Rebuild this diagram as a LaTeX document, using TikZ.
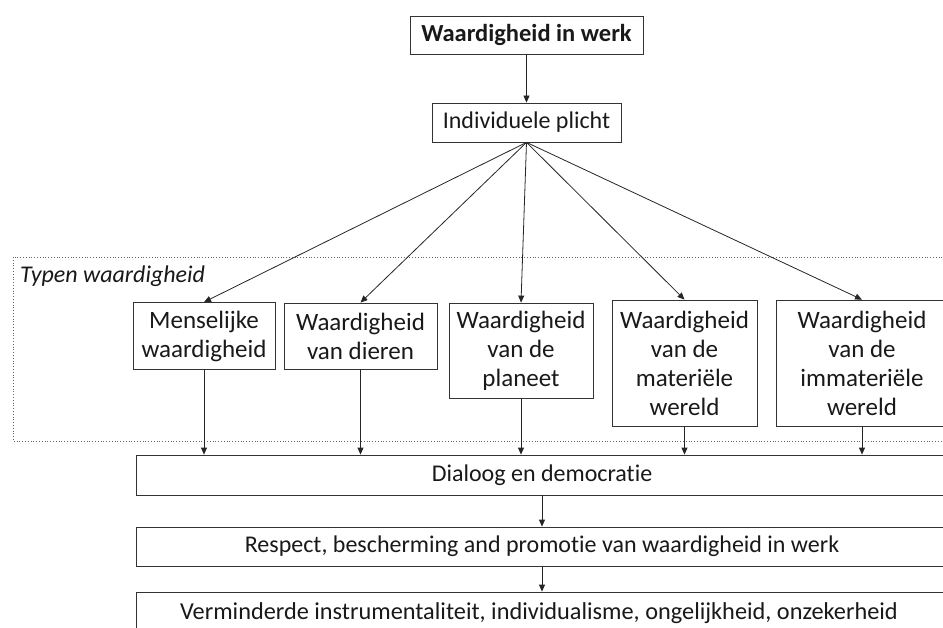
\documentclass[tikz,border=0pt]{standalone}
\usepackage{fontspec}
\setmainfont{Carlito}[Ligatures={NoCommon}]
\usetikzlibrary{arrows.meta}
\begin{document}
\begin{tikzpicture}[x=1pt,y=-1pt,
  box/.style={draw=black!80,line width=0.8pt,inner sep=0pt,align=center,text=black!90,
    font=\fontsize{24}{29}\selectfont},
  arr/.style={draw=black!85,line width=0.8pt,-{Triangle[length=7pt,width=6pt]}},
  ln/.style={draw=black!85,line width=0.8pt}]
\useasboundingbox (0,0) rectangle (943,628);
\clip (0,0) rectangle (943,628);
\fill[white] (0,0) rectangle (943,628);
% dotted group frame
\draw[black!60,dotted,line width=0.8pt] (13,257) rectangle (960,441);
\node[anchor=base west,inner sep=0pt,font=\fontsize{24}{29}\selectfont\itshape,text=black!90] (grp) at (20,283) {Typen waardigheid};
% nodes
\node[box,minimum width=233pt,minimum height=38pt,font=\fontsize{24.5}{29}\selectfont\bfseries] (top) at (526.5,35) {Waardigheid in werk};
\node[box,minimum width=189pt,minimum height=39pt] (ind) at (526.5,122.5) {Individuele plicht};
\node[box,minimum width=142pt,minimum height=67pt,font=\fontsize{25}{29}\selectfont] (m1) at (204,336) {Menselijke\\waardigheid};
\node[box,minimum width=153pt,minimum height=66pt,font=\fontsize{25}{29}\selectfont] (m2) at (360.5,336) {Waardigheid\\van dieren};
\node[box,minimum width=144pt,minimum height=95pt,font=\fontsize{25}{29}\selectfont] (m3) at (521,350.5) {Waardigheid\\van de\\planeet};
\node[box,minimum width=145pt,minimum height=126pt,font=\fontsize{25}{29}\selectfont] (m4) at (684.5,363) {Waardigheid\\van de\\materiële\\wereld};
\node[box,minimum width=172pt,minimum height=126pt,font=\fontsize{25}{29}\selectfont] (m5) at (862,363) {Waardigheid\\van de\\immateriële\\wereld};
\node[box,minimum width=812pt,minimum height=40pt] (dia) at (542,475) {Dialoog en democratie};
\node[box,minimum width=812pt,minimum height=39pt] (res) at (542,546.5) {Respect, bescherming and promotie van waardigheid in werk};
\node[box,minimum width=812pt,minimum height=70pt,text depth=0pt] (ver) at (542,627) {};
\node[anchor=base,inner sep=0pt,font=\fontsize{24.3}{29}\selectfont,text=black!90] (vert) at (539,619) {Verminderde instrumentaliteit, individualisme, ongelijkheid, onzekerheid};
% connectors
\draw[arr] (top) -- (ind);
\foreach \n in {m1,m2,m3,m4,m5}{
  \draw[arr] (ind.south) -- (\n.north);
  \draw[arr] (\n.south) -- (\n.south |- dia.north);
}
\draw[arr] (dia) -- (res);
\draw[arr] (res) -- (ver);
\end{tikzpicture}
\end{document}
